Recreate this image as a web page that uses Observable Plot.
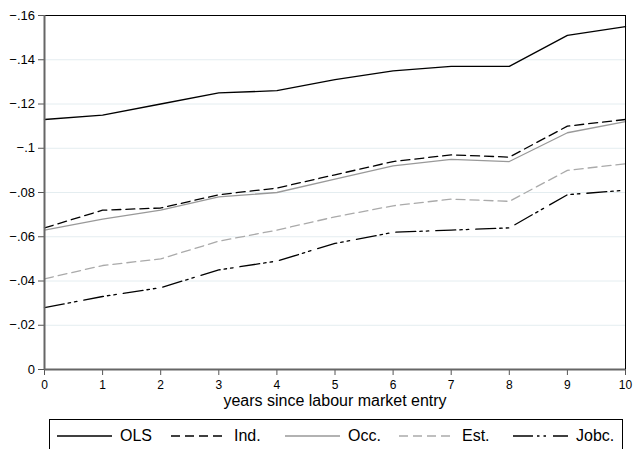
<!DOCTYPE html>
<html>
<head>
<meta charset="utf-8">
<script src="https://cdn.jsdelivr.net/npm/d3@7"></script>
<script src="https://cdn.jsdelivr.net/npm/@observablehq/plot@0.6"></script>
<style>
  body { margin: 0; background: #fff; font-family: "Liberation Sans", Arial, sans-serif; }
  #wrap { position: relative; width: 634px; height: 449px; overflow: hidden; }
  #legend { position: absolute; left: 49px; top: 419px; width: 574px; height: 40px;
            border: 1px solid #000; box-sizing: border-box; display: grid;
            grid-template-columns: repeat(5, 114px); padding-left: 7px; padding-top: 7px; }
  .item { display: flex; align-items: center; font-size: 16px; color: #000; height: 18px; }
  .item svg { margin-right: 8px; }
</style>
</head>
<body>
<div id="wrap"><div id="chart"></div><div id="legend"></div></div>
<script>
const years = [0, 1, 2, 3, 4, 5, 6, 7, 8, 9, 10];
const seriesNames = ["OLS", "Ind.", "Occ.", "Est.", "Jobc."];
const ols  = [-0.113, -0.115, -0.120, -0.125, -0.126, -0.131, -0.135, -0.137, -0.137, -0.151, -0.155];
const ind  = [-0.064, -0.072, -0.073, -0.079, -0.082, -0.088, -0.094, -0.097, -0.096, -0.110, -0.113];
const occ  = [-0.063, -0.068, -0.072, -0.078, -0.080, -0.086, -0.092, -0.095, -0.094, -0.107, -0.112];
const est  = [-0.041, -0.047, -0.050, -0.058, -0.063, -0.069, -0.074, -0.077, -0.076, -0.090, -0.093];
const jobc = [-0.028, -0.033, -0.037, -0.045, -0.049, -0.057, -0.062, -0.063, -0.064, -0.079, -0.081];
const yTicks = [0, -0.02, -0.04, -0.06, -0.08, -0.1, -0.12, -0.14, -0.16];
const xTicks = [0, 1, 2, 3, 4, 5, 6, 7, 8, 9, 10];
const xTitle = "years since labour market entry";

const seriesValues = [ols, ind, occ, est, jobc];
const styles = [
  {stroke: "#000", dash: null, width: 1.3},
  {stroke: "#000", dash: "9,5", width: 1.3},
  {stroke: "#999", dash: null, width: 1.3},
  {stroke: "#aaa", dash: "9,5", width: 1.3},
  {stroke: "#000", dash: "20,4,2.5,4,2.5,7", width: 1.3}
];

const rows = seriesNames.flatMap((s, i) => years.map((x, j) => ({series: s, x, y: seriesValues[i][j]})));

const fmt = d => d === 0 ? "0" : "\u2212" + String(Math.abs(+d.toFixed(2))).replace(/^0/, "");

const plot = Plot.plot({
  width: 634,
  height: 412,
  marginLeft: 44,
  marginRight: 9,
  marginTop: 15,
  marginBottom: 43,
  style: {fontFamily: "'Liberation Sans', Arial, sans-serif", background: "#fff", overflow: "visible"},
  x: {domain: [0, 10]},
  y: {domain: [0, -0.16]},
  marks: [
    Plot.gridY(yTicks.slice(1, -1), {stroke: "#e4edf0", strokeOpacity: 1, strokeWidth: 1}),
    ...seriesNames.map((s, i) => Plot.line(rows.filter(r => r.series === s), {
      x: "x", y: "y", stroke: styles[i].stroke, strokeWidth: styles[i].width,
      strokeDasharray: styles[i].dash, strokeLinejoin: "round"
    })),
    Plot.ruleY([-0.16], {stroke: "#000", strokeWidth: 1}),
    Plot.ruleX([10], {stroke: "#000", strokeWidth: 1}),
    Plot.axisY(yTicks, {tickFormat: fmt, tickSize: 6, tickPadding: 3.5, fontSize: 13, label: null, stroke: "#555", color: "#000"}),
    Plot.axisX(xTicks, {tickFormat: d => String(d), tickSize: 6, tickPadding: 5, fontSize: 12, label: null, stroke: "#555", color: "#000"}),
    Plot.ruleX([0], {stroke: "#666", strokeWidth: 2}),
    Plot.ruleY([0], {stroke: "#666", strokeWidth: 2}),
    Plot.text([xTitle], {frameAnchor: "bottom", lineAnchor: "bottom", dy: 36, fontSize: 16, fill: "#000"})
  ]
});
document.getElementById("chart").appendChild(plot);

const legend = document.getElementById("legend");
seriesNames.forEach((s, i) => {
  const item = document.createElement("div");
  item.className = "item";
  const st = styles[i];
  item.innerHTML = `<svg width="55" height="10"><line x1="0" x2="55" y1="5" y2="5" stroke="${st.stroke}" stroke-width="${st.width}" ${st.dash ? `stroke-dasharray="${st.dash}"` : ""}/></svg><span>${s}</span>`;
  legend.appendChild(item);
});
</script>
</body>
</html>
